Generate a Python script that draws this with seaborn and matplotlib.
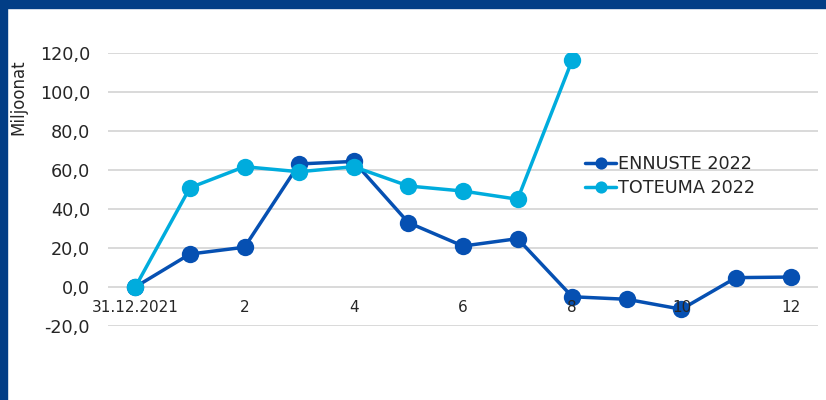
import pandas as pd
import matplotlib.pyplot as plt
import seaborn as sns
from matplotlib.patches import Rectangle
from matplotlib.ticker import FuncFormatter

# Data
kuukausi = list(range(13))
x_labels = ['31.12.2021', '', '2', '', '4', '', '6', '', '8', '', '10', '', '12']
ennuste = [0.0, 16.9, 20.4, 63.1, 64.4, 33.0, 21.0, 24.8, -5.0, -6.3, -11.4, 4.8, 5.1]
toteuma = [0.0, 50.9, 61.7, 59.1, 61.7, 51.8, 49.2, 45.0, 116.4]
sarjat = ['ENNUSTE 2022', 'TOTEUMA 2022']
varit = ['#0650B2', '#00ACDD']

df = pd.concat([
    pd.DataFrame({'kk': kuukausi[:len(ennuste)], 'arvo': ennuste, 'sarja': sarjat[0]}),
    pd.DataFrame({'kk': kuukausi[:len(toteuma)], 'arvo': toteuma, 'sarja': sarjat[1]}),
])

sns.set_theme(style='white')
plt.rcParams['font.family'] = ['DejaVu Sans']
plt.rcParams['text.color'] = '#262626'

fig = plt.figure(figsize=(8.26, 4.0), dpi=100)
ax = fig.add_axes([108 / 826, 74 / 400, 710 / 826, 273 / 400])

sns.lineplot(data=df, x='kk', y='arvo', hue='sarja', hue_order=sarjat,
             palette=varit, marker='o', markersize=12.5, linewidth=2.5,
             markeredgewidth=0, ax=ax)

ax.set_xlim(-0.5, 12.5)
ax.set_ylim(-20, 120)
ax.set_yticks(range(-20, 121, 20))
ax.yaxis.set_major_formatter(FuncFormatter(lambda v, p: f'{v:.1f}'.replace('.', ',')))
ax.set_xticks(kuukausi)
ax.set_xticklabels(x_labels)

ax.yaxis.grid(True, color='#D9D9D9', linewidth=1.4)
ax.xaxis.grid(False)
ax.set_axisbelow(True)
# x tick labels sit on top of the markers, like in the original
ax.xaxis.set_zorder(5)
for s in ['top', 'right', 'left']:
    ax.spines[s].set_visible(False)
ax.spines['bottom'].set_position(('data', 0))
ax.spines['bottom'].set_visible(False)

ax.tick_params(axis='y', length=0, pad=13, labelsize=12.7, labelcolor='#262626')
ax.tick_params(axis='x', length=0, pad=9, labelsize=11, labelcolor='#262626')

ax.set_xlabel('')
ax.set_ylabel('Miljoonat', fontsize=12, color='#262626')
ax.yaxis.set_label_coords(-0.114, 0.839)

handles, labels = ax.get_legend_handles_labels()
ax.legend(handles, labels, loc='center left', bbox_to_anchor=(0.672, 0.549),
          frameon=False, fontsize=12.7, handlelength=1.75, handletextpad=0.1,
          labelspacing=0.3, borderpad=0, borderaxespad=0, markerscale=0.7)

# dark blue frame on top and left
fig.add_artist(Rectangle((0, 1 - 8 / 400), 1, 8 / 400, transform=fig.transFigure,
                         color='#023E86', zorder=10))
fig.add_artist(Rectangle((0, 0), 7 / 826, 1, transform=fig.transFigure,
                         color='#023E86', zorder=10))

fig.savefig('out.png', dpi=100)
